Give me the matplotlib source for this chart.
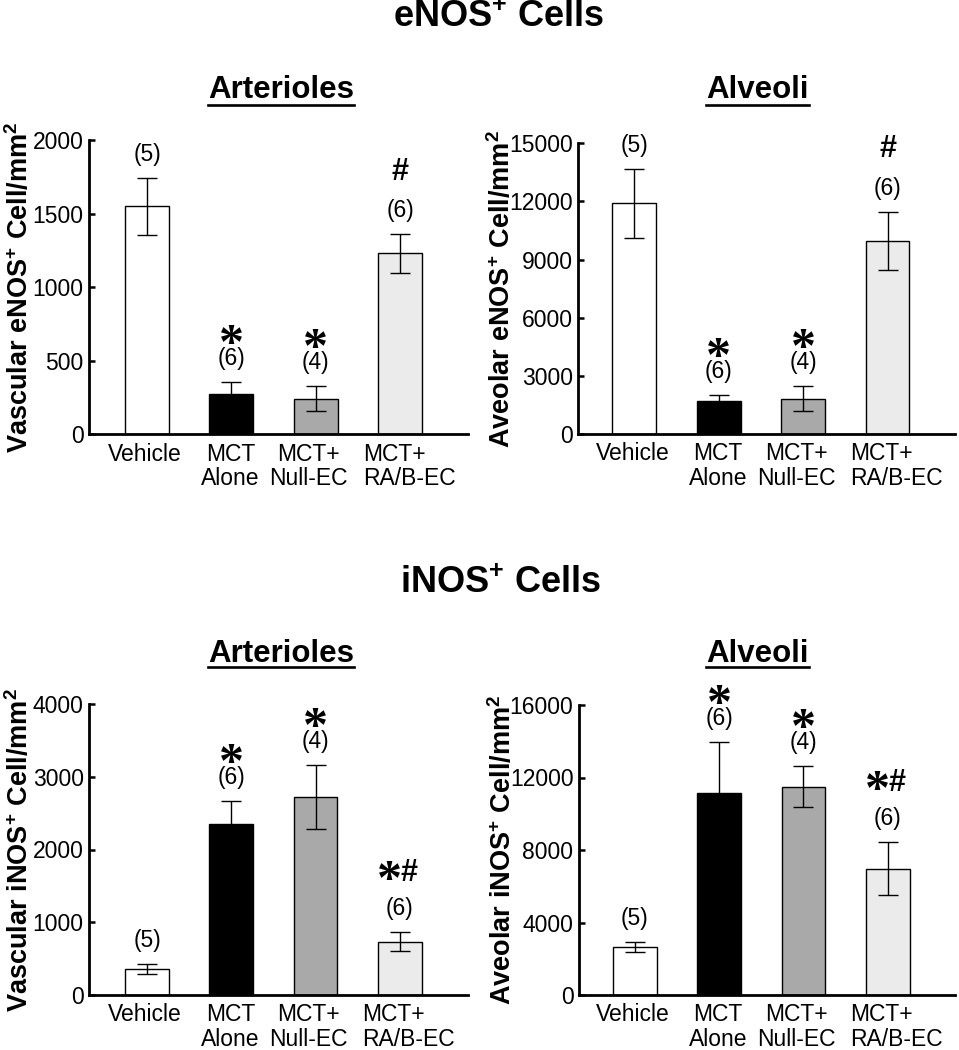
import matplotlib
matplotlib.use('Agg')
import matplotlib.pyplot as plt
from matplotlib.lines import Line2D
import numpy as np

plt.rcParams['font.family'] = ['Liberation Sans', 'DejaVu Sans']
plt.rcParams['mathtext.fontset'] = 'custom'
plt.rcParams['mathtext.rm'] = 'Liberation Sans'
plt.rcParams['mathtext.bf'] = 'Liberation Sans:bold'
plt.rcParams['mathtext.it'] = 'Liberation Sans:italic'

# ---------------- data ----------------
categories = ['Vehicle', 'MCT\nAlone', 'MCT+\nNull-EC', 'MCT+\nRA/B-EC']
bar_colors = ['white', 'black', '#a9a9a9', '#ebebeb']

enos_art_mean = [1550, 275, 240, 1230]
enos_art_err = [195, 80, 85, 132]
enos_alv_mean = [11900, 1720, 1820, 9980]
enos_alv_err = [1780, 300, 640, 1500]
inos_art_mean = [360, 2350, 2720, 735]
inos_art_err = [65, 310, 435, 128]
inos_alv_mean = [2665, 11160, 11490, 6970]
inos_alv_err = [275, 2810, 1120, 1470]

n_labels = ['(5)', '(6)', '(4)', '(6)']
enos_sig = ['', '*', '*', '#']
inos_sig = ['', '*', '*', '*#']

enos_art_ticks = [0, 500, 1000, 1500, 2000]
enos_alv_ticks = [0, 3000, 6000, 9000, 12000, 15000]
inos_art_ticks = [0, 1000, 2000, 3000, 4000]
inos_alv_ticks = [0, 4000, 8000, 12000, 16000]

# ---------------- figure ----------------
W, H = 959, 1050
fig = plt.figure(figsize=(W / 100, H / 100), dpi=100)
PT = 0.72  # points per pixel at 100 dpi

# horizontal nudges (px) of the category labels, and their line alignment
label_dx = [-2, -1, -7, 9]
label_align = ['center', 'center', 'center', 'left']

STAR_SIZE = 36
STAR_EM = STAR_SIZE / PT
HASH_SIZE = 22
HASH_EM = HASH_SIZE / PT


def px_axes(left, top, right, bottom):
    return fig.add_axes([left / W, 1 - bottom / H, (right - left) / W, (bottom - top) / H])


def star(ax, xi, top, dx, dy):
    ax.annotate('*', (xi, top), xytext=(dx * PT, (dy - 0.48 * STAR_EM) * PT),
                textcoords='offset points', ha='center', va='baseline',
                fontsize=STAR_SIZE, family='Liberation Serif', fontweight='bold', zorder=4)


def hash_mark(ax, xi, top, dx, dy):
    ax.annotate('#', (xi, top), xytext=(dx * PT, (dy - 0.35 * HASH_EM) * PT),
                textcoords='offset points', ha='center', va='baseline',
                fontsize=HASH_SIZE, fontweight='bold', zorder=4)


def panel(ax, means, errs, ticks, ylabel, sig, xlim, label_x):
    x = np.arange(len(categories))
    ax.bar(x, means, width=0.52, color=bar_colors, edgecolor='black',
           linewidth=1.0, zorder=2)
    ax.errorbar(x, means, yerr=errs, fmt='none', ecolor='black',
                elinewidth=1.0, capsize=7.5, capthick=1.0, zorder=3)
    ax.set_xlim(*xlim)
    ax.set_ylim(0, ticks[-1])
    ax.set_yticks(ticks)
    ax.set_yticklabels([str(t) for t in ticks])
    ax.set_xticks([])
    for xi, cat, dx, al in zip(x, categories, label_dx, label_align):
        ax.annotate(cat, (xi, 0), xycoords=ax.get_xaxis_transform(),
                    xytext=(dx * PT, -6), textcoords='offset points',
                    ha='center', va='top', ma=al, fontsize=16.5, linespacing=1.1,
                    annotation_clip=False)
    ax.tick_params(axis='y', direction='in', length=4, width=1.8,
                   labelsize=16.5, pad=4)
    for s in ['top', 'right']:
        ax.spines[s].set_visible(False)
    for s in ['left', 'bottom']:
        ax.spines[s].set_linewidth(2.0)
    ax.set_ylabel(ylabel, fontsize=19.5, fontweight='bold')
    ax.yaxis.set_label_coords(label_x, 0.5)

    for xi, m, e, n, s in zip(x, means, errs, n_labels, sig):
        top = m + e
        ax.annotate(n, (xi, top), xytext=(0, 23.5 * PT), textcoords='offset points',
                    ha='center', va='center', fontsize=16.5, zorder=4)
        if s == '#':
            hash_mark(ax, xi, top, 0, 65)
        elif s == '*':
            star(ax, xi, top, 0, 48)
        elif s == '*#':
            star(ax, xi, top, -10.5, 62)
            hash_mark(ax, xi, top, 9.5, 62)


ax1 = px_axes(89.3, 140, 468.3, 434.3)
ax2 = px_axes(578.3, 143.3, 955, 434)
ax3 = px_axes(89.3, 704, 468, 995)
ax4 = px_axes(579, 705, 955, 995)

xl_left = (-0.685, 3.81)
xl_right = (-0.665, 3.80)

panel(ax1, enos_art_mean, enos_art_err, enos_art_ticks,
      r'Vascular eNOS$^{\mathbf{+}}$ Cell/mm$^{\mathbf{2}}$', enos_sig, xl_left, -0.146)
panel(ax2, enos_alv_mean, enos_alv_err, enos_alv_ticks,
      r'Aveolar eNOS$^{\mathbf{+}}$ Cell/mm$^{\mathbf{2}}$', enos_sig, xl_right, -0.165)
panel(ax3, inos_art_mean, inos_art_err, inos_art_ticks,
      r'Vascular iNOS$^{\mathbf{+}}$ Cell/mm$^{\mathbf{2}}$', inos_sig, xl_left, -0.146)
panel(ax4, inos_alv_mean, inos_alv_err, inos_alv_ticks,
      r'Aveolar iNOS$^{\mathbf{+}}$ Cell/mm$^{\mathbf{2}}$', inos_sig, xl_right, -0.165)


def ftext(xp, yp, s, **kw):
    return fig.text(xp / W, 1 - yp / H, s, **kw)


ftext(499, 26.7, r'eNOS$^{\mathbf{+}}$ Cells', ha='center', va='baseline',
      fontsize=26, fontweight='bold')
ftext(501, 593.3, r'iNOS$^{\mathbf{+}}$ Cells', ha='center', va='baseline',
      fontsize=26, fontweight='bold')

sub_titles = [
    ftext(281, 98.3, 'Arterioles', ha='center', va='baseline', fontsize=22.5, fontweight='bold'),
    ftext(757.5, 98.3, 'Alveoli', ha='center', va='baseline', fontsize=22.5, fontweight='bold'),
    ftext(281, 661.7, 'Arterioles', ha='center', va='baseline', fontsize=22.5, fontweight='bold'),
    ftext(757.5, 661.7, 'Alveoli', ha='center', va='baseline', fontsize=22.5, fontweight='bold'),
]
underline_y = [105, 105, 667, 667]

fig.canvas.draw()
renderer = fig.canvas.get_renderer()
for t, uy in zip(sub_titles, underline_y):
    bb = t.get_window_extent(renderer)
    fig.add_artist(Line2D([bb.x0 / W, bb.x1 / W], [1 - uy / H, 1 - uy / H],
                          transform=fig.transFigure, color='black', linewidth=1.9))

fig.savefig('out.png', dpi=100)
